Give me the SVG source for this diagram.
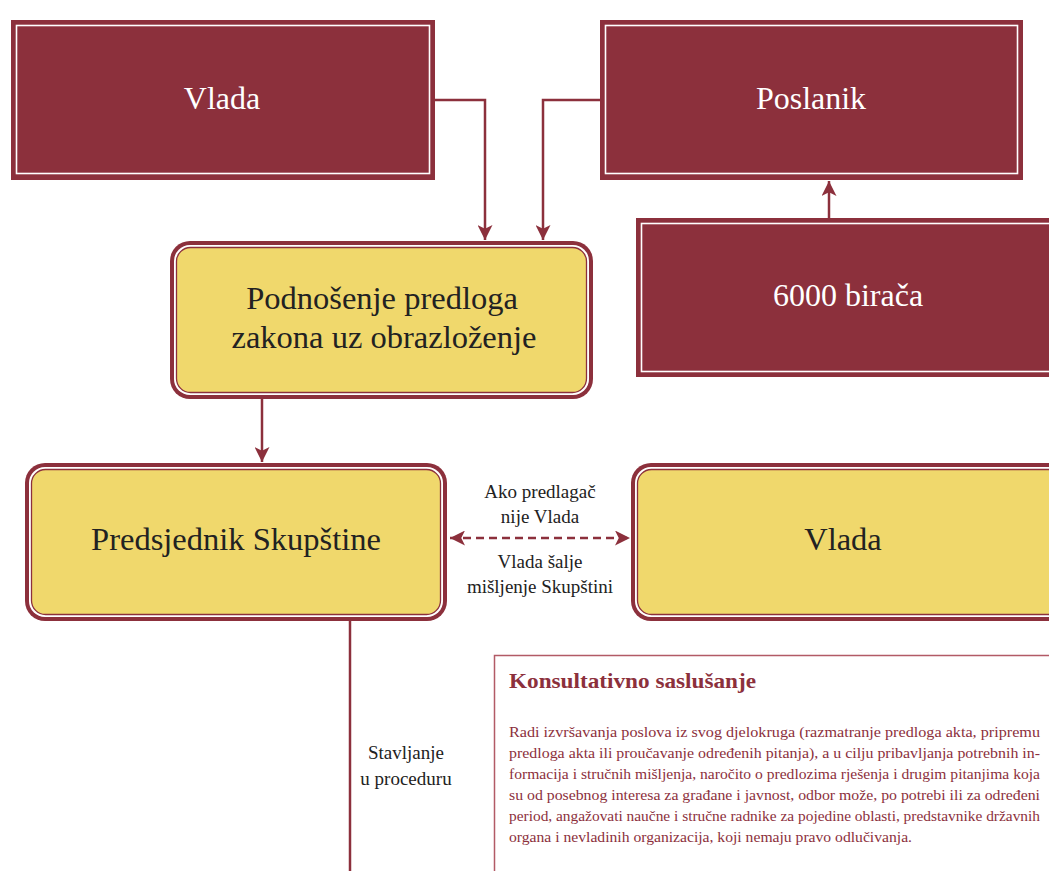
<svg xmlns="http://www.w3.org/2000/svg" width="1049" height="871" viewBox="0 0 1049 871">
<style>
.red{fill:#8c303c}
.wl{fill:none;stroke:#fff;stroke-width:1.6}
.wt{font-family:"Liberation Serif",serif;font-size:32px;fill:#fff;text-anchor:middle}
.dt{font-family:"Liberation Serif",serif;font-size:32.5px;fill:#222;text-anchor:middle}
.lbl{font-family:"Liberation Serif",serif;font-size:19px;fill:#222;text-anchor:middle}
.con{fill:none;stroke:#8c303c;stroke-width:2.5}
.body{font-family:"Liberation Serif",serif;font-size:15.5px;fill:#8c303c}
.title{font-family:"Liberation Serif",serif;font-size:21px;font-weight:bold;fill:#8c303c}
</style>
<defs>
<marker id="ah" viewBox="0 0 10 10" refX="10" refY="5" markerWidth="6" markerHeight="6" orient="auto-start-reverse" markerUnits="strokeWidth">
<path d="M0,0 L10,5 L0,10 L2.5,5 z" fill="#8c303c"/>
</marker>
</defs>
<rect width="1049" height="871" fill="#fff"/>

<g id="node-vlada-top">
<rect class="red" x="11" y="20" width="424" height="160"/>
<rect class="wl" x="16.5" y="25.5" width="413" height="148"/>
<text class="wt" x="222" y="109">Vlada</text>
</g>

<g id="node-poslanik">
<rect class="red" x="600" y="20" width="423" height="160"/>
<rect class="wl" x="605.5" y="25.5" width="412" height="148"/>
<text class="wt" x="811" y="109">Poslanik</text>
</g>

<g id="node-biraci">
<rect class="red" x="636" y="218" width="430" height="159"/>
<rect class="wl" x="641.5" y="223.5" width="420" height="148"/>
<text class="wt" x="848" y="306">6000 birača</text>
</g>

<g id="node-podnosenje">
<rect class="red" x="170" y="241" width="423" height="158" rx="20"/>
<rect x="174" y="245" width="415" height="150" rx="16" fill="#fff"/>
<rect x="176.5" y="247.5" width="410" height="145" rx="14" fill="#f0d86c" stroke="#8c303c" stroke-width="1.3"/>
<text class="dt" x="382" y="309">Podnošenje predloga</text>
<text class="dt" x="384" y="348">zakona uz obrazloženje</text>
</g>

<g id="node-predsjednik">
<rect class="red" x="25" y="463" width="422" height="158" rx="20"/>
<rect x="29" y="467" width="414" height="150" rx="16" fill="#fff"/>
<rect x="31.5" y="469.5" width="409" height="145" rx="14" fill="#f0d86c" stroke="#8c303c" stroke-width="1.3"/>
<text class="dt" x="236" y="550">Predsjednik Skupštine</text>
</g>

<g id="node-vlada-right">
<rect class="red" x="631" y="463" width="440" height="158" rx="20"/>
<rect x="635" y="467" width="432" height="150" rx="16" fill="#fff"/>
<rect x="637.5" y="469.5" width="427" height="145" rx="14" fill="#f0d86c" stroke="#8c303c" stroke-width="1.3"/>
<text class="dt" x="843" y="550">Vlada</text>
</g>

<g id="connectors">
<polyline class="con" points="435,100 485,100 485,240" marker-end="url(#ah)"/>
<polyline class="con" points="600,100 543,100 543,240" marker-end="url(#ah)"/>
<line class="con" x1="829" y1="218" x2="829" y2="181" marker-end="url(#ah)"/>
<line class="con" x1="262" y1="399" x2="262" y2="462" marker-end="url(#ah)"/>
<line class="con" x1="450" y1="538" x2="630" y2="538" stroke-dasharray="8,5" marker-start="url(#ah)" marker-end="url(#ah)"/>
<line class="con" x1="350" y1="621" x2="350" y2="871"/>
</g>

<g id="labels">
<text class="lbl" x="540" y="498">Ako predlagač</text>
<text class="lbl" x="540" y="523">nije Vlada</text>
<text class="lbl" x="540" y="568">Vlada šalje</text>
<text class="lbl" x="540" y="593">mišljenje Skupštini</text>
<text class="lbl" x="406" y="759">Stavljanje</text>
<text class="lbl" x="406" y="785">u proceduru</text>
</g>

<g id="node-konsultativno">
<rect x="494.5" y="655.5" width="600" height="300" fill="none" stroke="#b25a66" stroke-width="1.5"/>
<text class="title" x="509" y="688" textLength="247" lengthAdjust="spacingAndGlyphs">Konsultativno saslušanje</text>
<text class="body" x="509" y="737" textLength="531" lengthAdjust="spacingAndGlyphs">Radi izvršavanja poslova iz svog djelokruga (razmatranje predloga akta, pripremu</text>
<text class="body" x="509" y="758" textLength="531" lengthAdjust="spacingAndGlyphs">predloga akta ili proučavanje određenih pitanja), a u cilju pribavljanja potrebnih in-</text>
<text class="body" x="509" y="779" textLength="531" lengthAdjust="spacingAndGlyphs">formacija i stručnih mišljenja, naročito o predlozima rješenja i drugim pitanjima koja</text>
<text class="body" x="509" y="800" textLength="531" lengthAdjust="spacingAndGlyphs">su od posebnog interesa za građane i javnost, odbor može, po potrebi ili za određeni</text>
<text class="body" x="509" y="821" textLength="531" lengthAdjust="spacingAndGlyphs">period, angažovati naučne i stručne radnike za pojedine oblasti, predstavnike državnih</text>
<text class="body" x="509" y="842" textLength="403" lengthAdjust="spacingAndGlyphs">organa i nevladinih organizacija, koji nemaju pravo odlučivanja.</text>
</g>
</svg>
